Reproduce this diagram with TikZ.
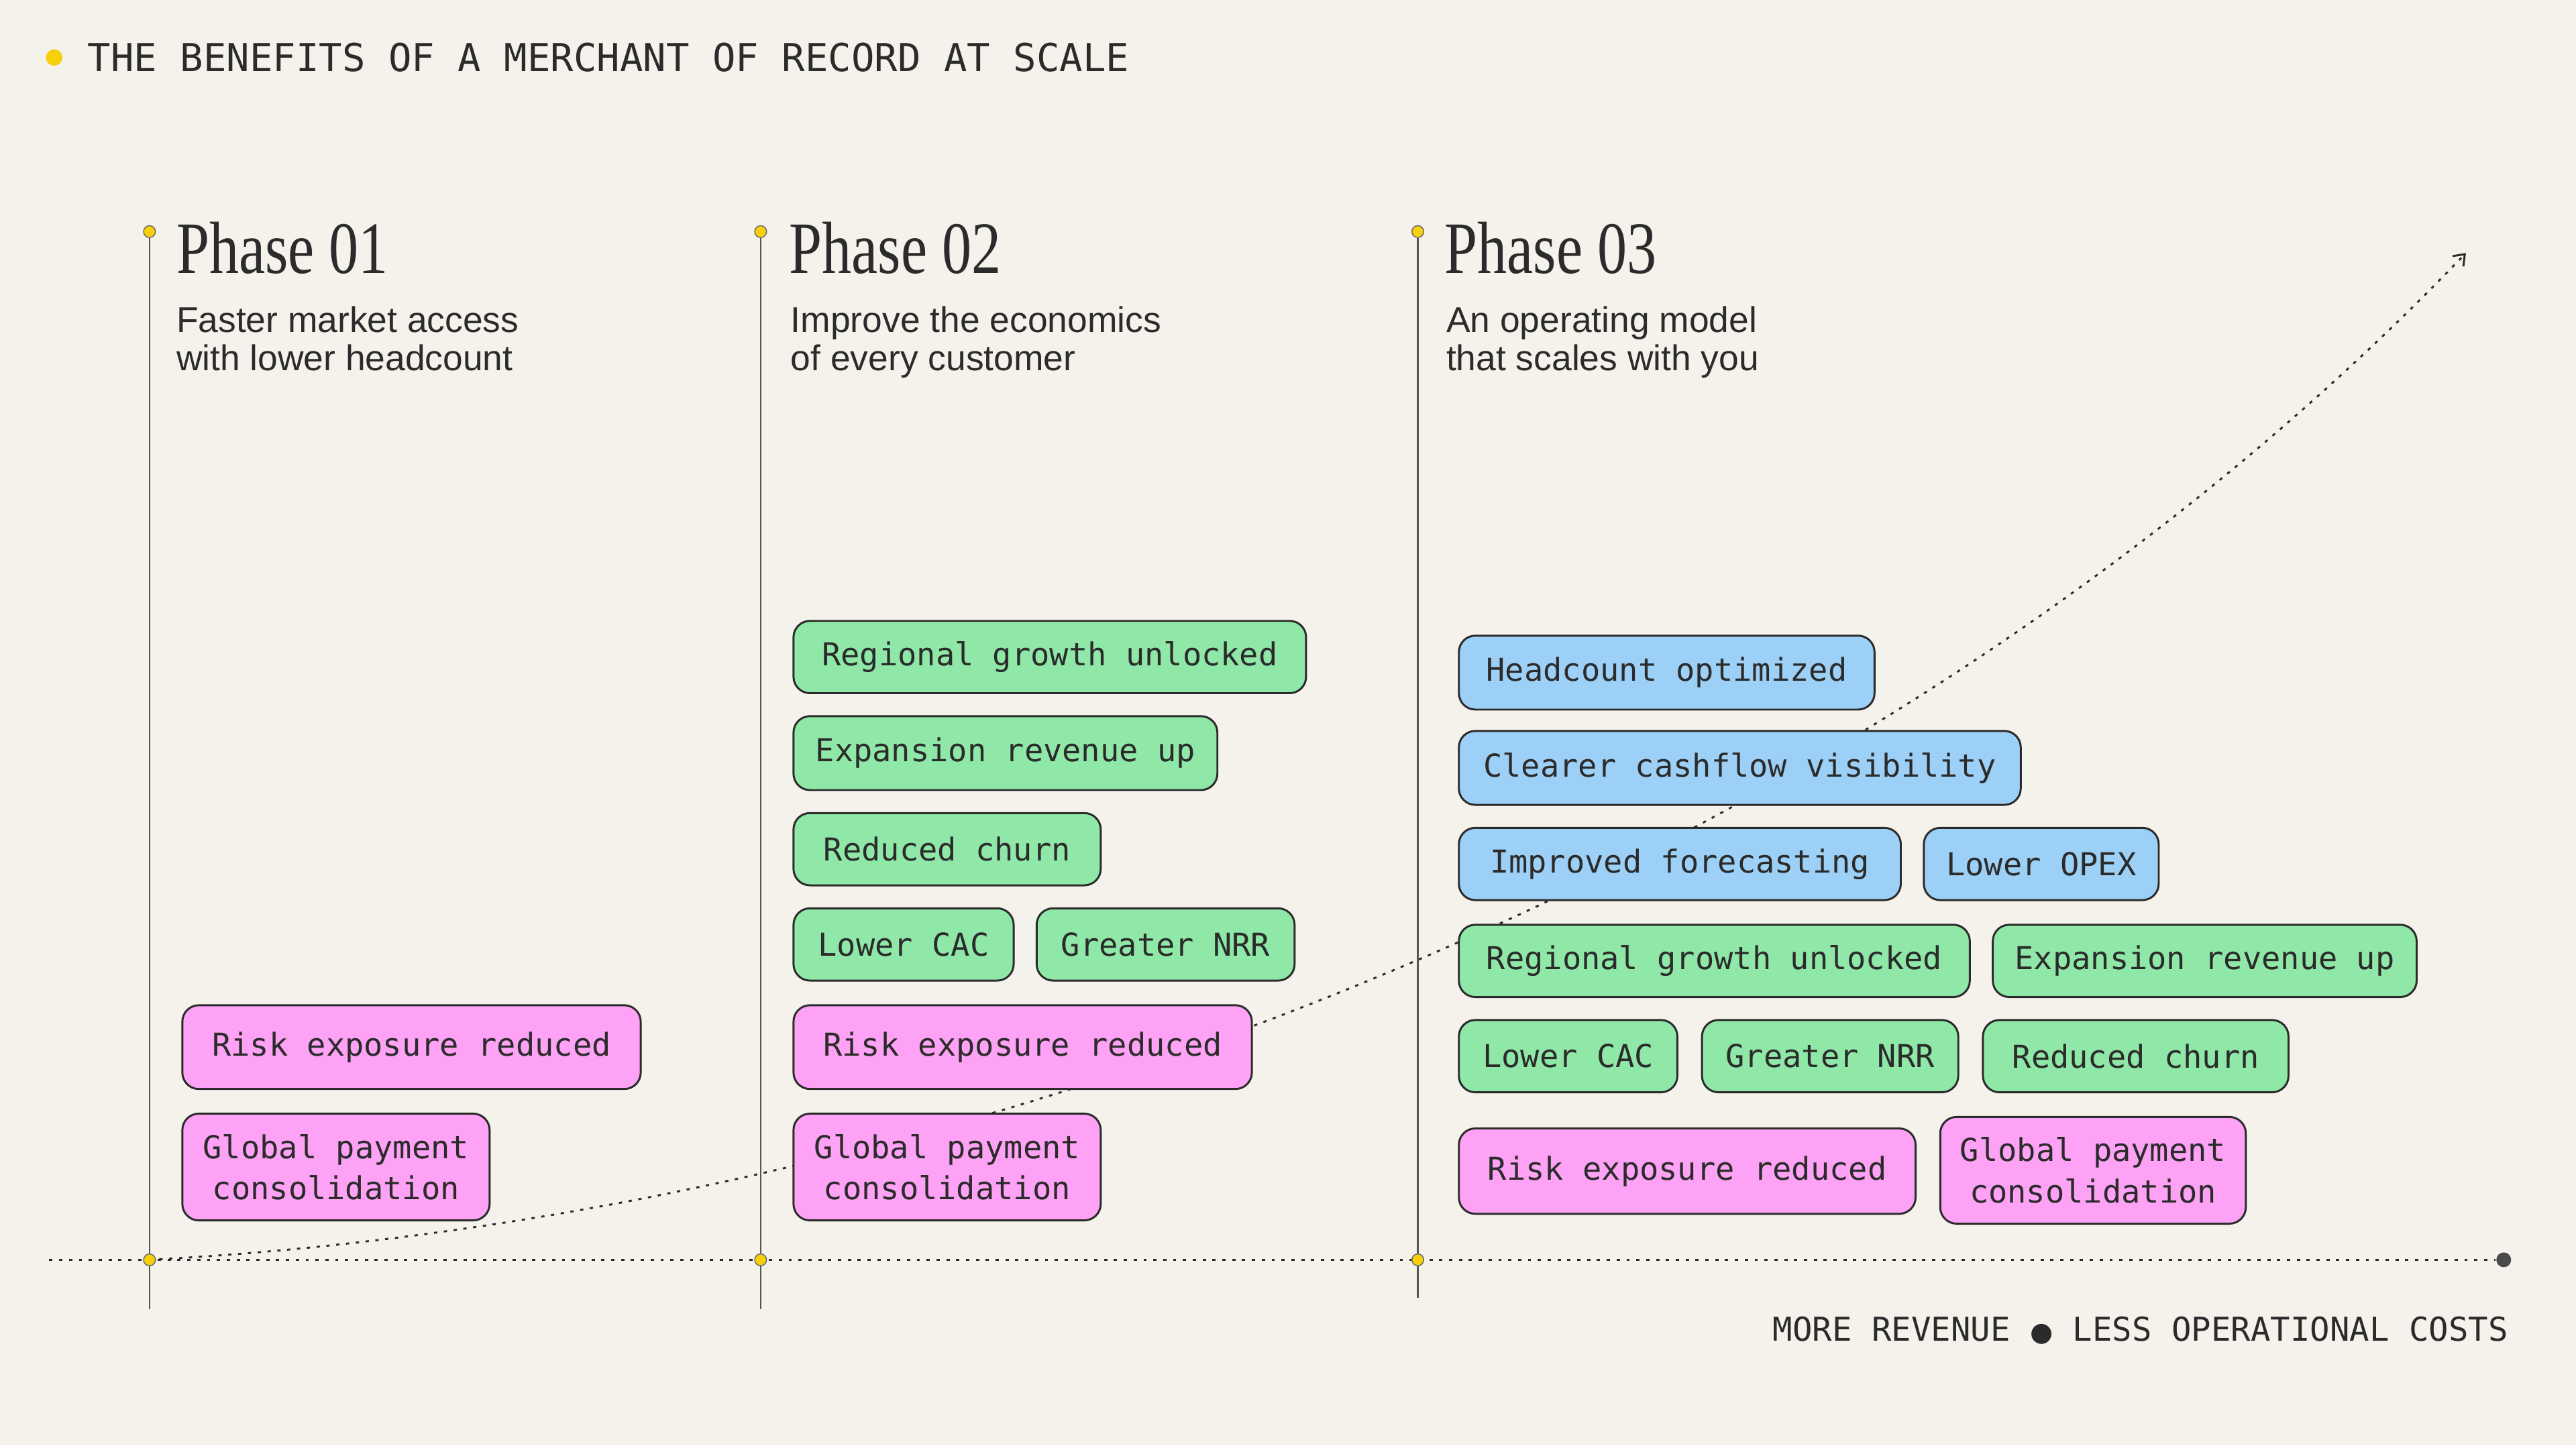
\documentclass[tikz,border=0pt]{standalone}
\usepackage{fontspec}
\setmainfont{Liberation Sans}
\newfontfamily\monof{DejaVu Sans Mono}
\newfontfamily\phasef[FakeStretch=0.8]{Liberation Serif}
\newfontfamily\dejavu{DejaVu Sans}
\usetikzlibrary{arrows.meta}
\definecolor{bg}{HTML}{F5F2EB}
\definecolor{tgreen}{HTML}{8FE8A7}
\definecolor{tpink}{HTML}{FDA2F4}
\definecolor{tblue}{HTML}{9DD0F6}
\definecolor{ink}{HTML}{2B2B2B}
\definecolor{yel}{HTML}{F7CF0A}
\tikzset{
  tag/.style={draw=ink, line width=0.6pt, rounded corners=5pt, inner sep=0pt, align=center,
    font=\monof\fontsize{9.6}{12.5}\selectfont, text=ink},
  green/.style={tag, fill=tgreen}, pink/.style={tag, fill=tpink}, blue/.style={tag, fill=tblue},
  vline/.style={draw=ink!80, line width=0.5pt},
  ydot/.style={circle, fill=yel, draw=ink!70, line width=0.3pt, inner sep=0pt, minimum size=3.6pt},
  dots/.style={ink, line width=0.6pt, dash pattern=on 1pt off 2pt},
  ptitle/.style={anchor=west, inner sep=0pt, font=\phasef\fontsize{22.5}{24}\selectfont, text=ink},
  psub/.style={anchor=north west, inner sep=0pt, align=left, font=\fontsize{10.9}{11.8}\selectfont, text=ink},
}
\newcommand{\mytag}[7]{\node[#2, minimum width={(#5-#3)*0.5pt}, minimum height={(#6-#4)*0.5pt}] (#1) at ({(#3+#5)/2},{(#4+#6)/2}) {#7};}
\begin{document}
\begin{tikzpicture}[x=0.5pt,y=-0.5pt]
\fill[bg] (0,0) rectangle (1568,880);
\useasboundingbox (0,0) rectangle (1568,880);
% title
\node[circle, fill=yel, inner sep=0pt, minimum size=5pt] (tdot) at (33,35) {};
\node[anchor=west, inner sep=0pt, font=\monof\fontsize{11.7}{14}\selectfont, text=ink] (title) at (53,35) {THE BENEFITS OF A MERCHANT OF RECORD AT SCALE};
% baseline
\coordinate (bl0) at (30,767);
\node[circle, fill=ink!85, inner sep=0pt, minimum size=4.5pt] (blend) at (1524,767) {};
\draw[dots] (bl0) -- (blend);
% curve
\coordinate (c0) at (91,767);
\coordinate (c1) at (1501,154);
\draw[dots, -{Straight Barb[length=3pt,width=4.5pt,line width=0.6pt]}] (c0) .. controls (600,740) and (1150,520) .. (c1);
% phase lines
\coordinate (l1b) at (91,797); \coordinate (l2b) at (463,797); \coordinate (l3b) at (863,790);
\node[ydot] (p1t) at (91,141) {}; \node[ydot] (p2t) at (463,141) {}; \node[ydot] (p3t) at (863,141) {};
\draw[vline] (p1t) -- (l1b); \draw[vline] (p2t) -- (l2b); \draw[vline] (p3t) -- (l3b);
\node[ydot] (p1b) at (91,767) {}; \node[ydot] (p2b) at (463,767) {}; \node[ydot] (p3b) at (863,767) {};
% phase headings
\node[ptitle] (h1) at (107,151) {Phase 01};
\node[ptitle] (h2) at (480,151) {Phase 02};
\node[ptitle] (h3) at (879,151) {Phase 03};
\node[psub] (s1) at (107,186) {Faster market access\\with lower headcount};
\node[psub] (s2) at (481,186) {Improve the economics\\of every customer};
\node[psub] (s3) at (880,186) {An operating model\\that scales with you};
% phase 1
\mytag{a1}{pink}{111}{612}{390}{663}{Risk exposure reduced}
\mytag{a2}{pink}{111}{678}{298}{743}{Global payment\\consolidation}
% phase 2
\mytag{b1}{green}{483}{378}{795}{422}{Regional growth unlocked}
\mytag{b2}{green}{483}{436}{741}{481}{Expansion revenue up}
\mytag{b3}{green}{483}{495}{670}{539}{Reduced churn}
\mytag{b4}{green}{483}{553}{617}{597}{Lower CAC}
\mytag{b5}{green}{631}{553}{788}{597}{Greater NRR}
\mytag{b6}{pink}{483}{612}{762}{663}{Risk exposure reduced}
\mytag{b7}{pink}{483}{678}{670}{743}{Global payment\\consolidation}
% phase 3
\mytag{c1b}{blue}{888}{387}{1141}{432}{Headcount optimized}
\mytag{c2b}{blue}{888}{445}{1230}{490}{Clearer cashflow visibility}
\mytag{c3b}{blue}{888}{504}{1157}{548}{Improved forecasting}
\mytag{c4b}{blue}{1171}{504}{1314}{548}{Lower OPEX}
\mytag{c5b}{green}{888}{563}{1199}{607}{Regional growth unlocked}
\mytag{c6b}{green}{1213}{563}{1471}{607}{Expansion revenue up}
\mytag{c7b}{green}{888}{621}{1021}{665}{Lower CAC}
\mytag{c8b}{green}{1036}{621}{1192}{665}{Greater NRR}
\mytag{c9b}{green}{1207}{621}{1393}{665}{Reduced churn}
\mytag{c10b}{pink}{888}{687}{1166}{739}{Risk exposure reduced}
\mytag{c11b}{pink}{1181}{680}{1367}{745}{Global payment\\consolidation}
% footer
\node[anchor=east, inner sep=0pt, font=\monof\fontsize{10}{12}\selectfont, text=ink] (foot) at (1527,810) {MORE REVENUE {\dejavu\fontsize{8}{10}\selectfont ●} LESS OPERATIONAL COSTS};
\end{tikzpicture}
\end{document}
